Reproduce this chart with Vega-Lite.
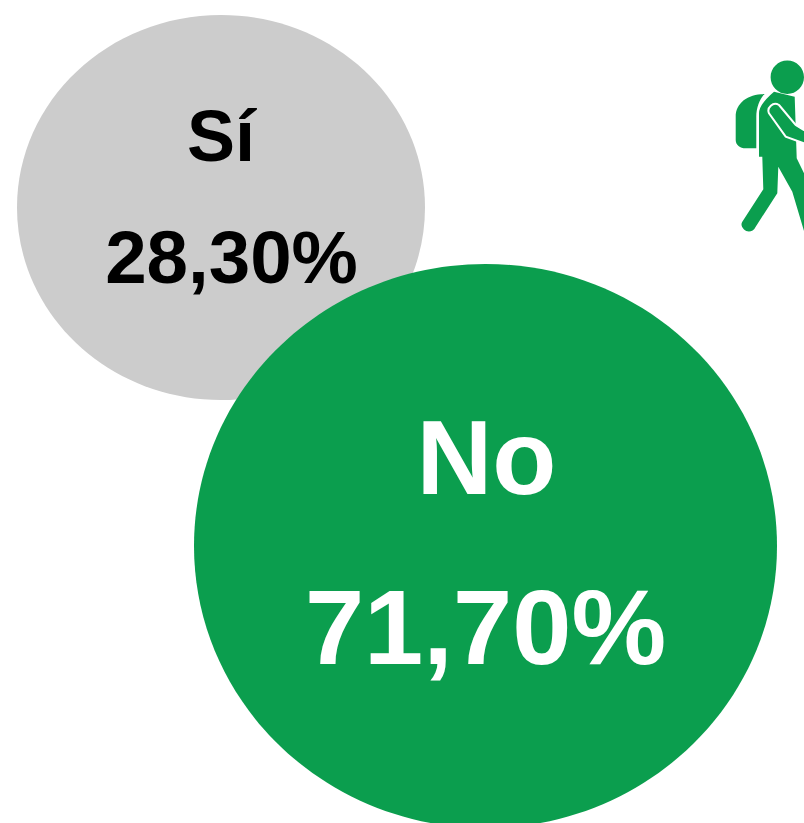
{
  "$schema": "https://vega.github.io/schema/vega-lite/v6.json",
  "width": 804,
  "height": 823,
  "autosize": "none",
  "padding": 0,
  "background": "white",
  "view": {"stroke": null},
  "config": {"view": {"stroke": null}},
  "data": {"values": [
    {"categoria": "Sí", "porcentaje": 28.3, "valor": "28,30%"},
    {"categoria": "No", "porcentaje": 71.7, "valor": "71,70%"}
  ]},
  "encoding": {
    "x": {"field": "categoria", "type": "nominal", "axis": null, "scale": {"type": "point", "domain": ["Sí", "No", "icono"], "range": [221, 750], "padding": 0}},
    "y": {"field": "categoria", "type": "nominal", "axis": null, "scale": {"type": "point", "domain": ["Sí", "No"], "range": [207.5, 546], "padding": 0}}
  },
  "layer": [
    {
      "transform": [{"filter": "datum.categoria === 'Sí'"}],
      "mark": {"type": "point", "filled": true, "opacity": 1, "fill": "#CCCCCC", "size": 166464, "shape": "M-1,0 A1,0.9436 0 1 1 1,0 A1,0.9436 0 1 1 -1,0 Z"}
    },
    {
      "transform": [{"filter": "datum.categoria === 'Sí'"}],
      "mark": {"type": "text", "font": "Liberation Sans", "fontWeight": "bold", "fontSize": 72, "color": "#000000", "baseline": "alphabetic", "align": "center", "dx": 0, "dy": -46.5},
      "encoding": {"text": {"field": "categoria"}}
    },
    {
      "transform": [{"filter": "datum.categoria === 'Sí'"}],
      "mark": {"type": "text", "font": "Liberation Sans", "fontWeight": "bold", "fontSize": 74.5, "color": "#000000", "baseline": "alphabetic", "align": "center", "dx": 10.5, "dy": 75.5},
      "encoding": {"text": {"field": "valor"}}
    },
    {
      "transform": [{"filter": "datum.categoria === 'No'"}],
      "mark": {"type": "point", "filled": true, "opacity": 1, "fill": "#0B9E4E", "size": 339889, "shape": "M-1,0 A1,0.9674 0 1 1 1,0 A1,0.9674 0 1 1 -1,0 Z"}
    },
    {
      "transform": [{"filter": "datum.categoria === 'No'"}],
      "mark": {"type": "text", "font": "Liberation Sans", "fontWeight": "bold", "fontSize": 105, "color": "#FFFFFF", "baseline": "alphabetic", "align": "center", "dx": 1, "dy": -52},
      "encoding": {"text": {"field": "categoria"}}
    },
    {
      "transform": [{"filter": "datum.categoria === 'No'"}],
      "mark": {"type": "text", "font": "Liberation Sans", "fontWeight": "bold", "fontSize": 106.5, "color": "#FFFFFF", "baseline": "alphabetic", "align": "center", "dx": 0, "dy": 118},
      "encoding": {"text": {"field": "valor"}}
    },
    {
      "transform": [{"filter": "datum.categoria === 'Sí'"}],
      "mark": {"type": "point", "filled": true, "opacity": 1, "fill": "#0B9E4E", "size": 40000, "shape": "M.206,-1.302 A.167,.167 0 1 1 .54,-1.302 A.167,.167 0 1 1 .206,-1.302 Z M.147,-1.135 C-.02,-1.135 -.143,-1.045 -.143,-.908 L-.143,-.675 C-.143,-.625 -.1,-.592 -.043,-.592 L.063,-.592 L.063,-.908 C.063,-1.005 .1,-1.095 .147,-1.135 Z M.09,-.508 L.09,-.942 Q.09,-1.03 .24,-1.158 L.447,-1.108 L.467,-.492 L.54,-.342 L.64,-.142 L.657,.292 L.557,.292 L.423,-.158 L.283,-.408 L.273,-.142 L.057,.192 C.03,.25 -.03,.25 -.06,.22 C-.09,.19 -.09,.16 -.077,.142 L.133,-.182 L.123,-.508 Z"},
      "encoding": {"x": {"datum": "icono"}, "y": {"datum": "Sí"}}
    },
    {
      "transform": [{"filter": "datum.categoria === 'Sí'"}],
      "mark": {"type": "point", "filled": true, "opacity": 1, "fill": "#0B9E4E", "stroke": "#FFFFFF", "strokeWidth": 2, "size": 40000, "shape": "M.29,-1.025 L.457,-.825 L.54,-.775 L.74,-.692 L.74,-.575 L.54,-.642 L.357,-.708 L.19,-.942 C.165,-1 .23,-1.06 .29,-1.025 Z"},
      "encoding": {"x": {"datum": "icono"}, "y": {"datum": "Sí"}}
    }
  ]
}
